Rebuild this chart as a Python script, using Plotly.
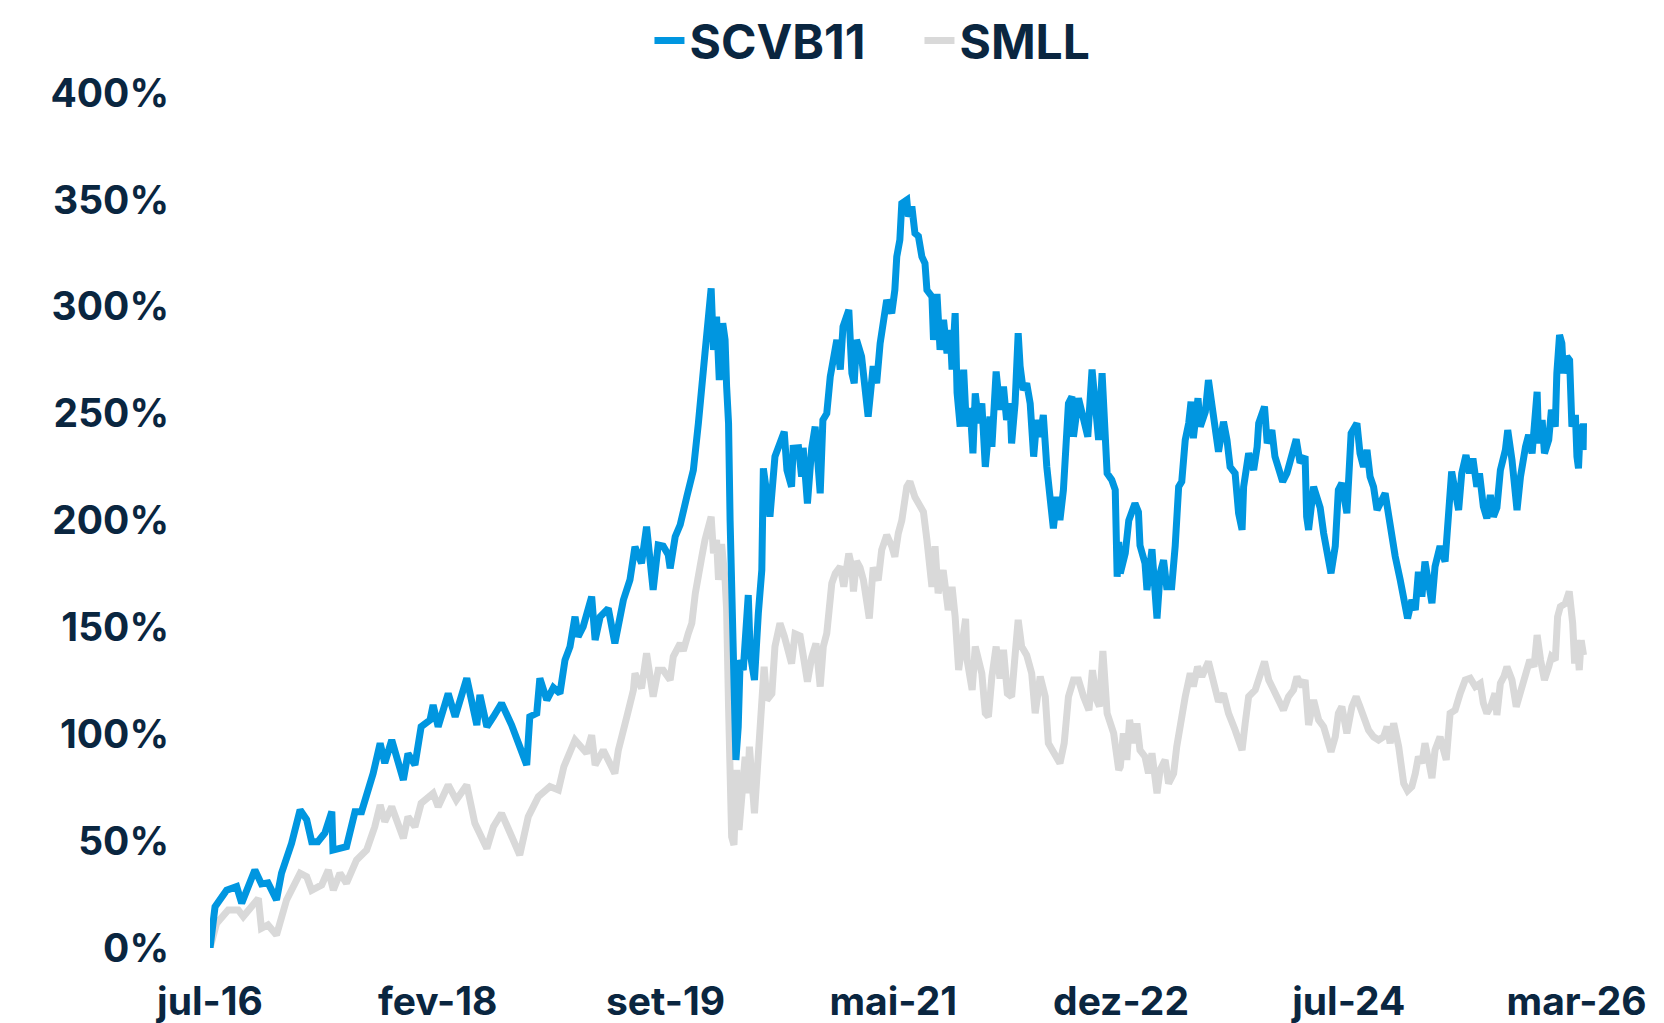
import plotly.graph_objects as go

# ---------------- data (cumulative return, %) ----------------
scvb11_dates = [
"2016-07-01","2016-07-14","2016-08-13","2016-09-08","2016-09-21","2016-10-25","2016-11-11","2016-11-28","2016-12-20","2017-01-02",
"2017-01-28","2017-02-19","2017-03-08","2017-03-21","2017-04-06","2017-04-24","2017-05-12","2017-05-15","2017-06-19","2017-07-11",
"2017-07-28","2017-08-10","2017-08-27","2017-09-14","2017-09-26","2017-10-14","2017-11-13","2017-11-25","2017-12-13","2017-12-29",
"2018-01-21","2018-01-29","2018-02-11","2018-03-09","2018-03-27","2018-04-26","2018-05-22","2018-05-30","2018-06-17","2018-07-04",
"2018-07-25","2018-08-20","2018-09-02","2018-09-19","2018-09-28","2018-10-06","2018-10-24","2018-11-01","2018-11-19","2018-12-06",
"2018-12-23","2019-01-05","2019-01-18","2019-01-31","2019-02-08","2019-02-21","2019-03-15","2019-03-24","2019-04-06","2019-04-27",
"2019-05-14","2019-06-05","2019-06-22","2019-07-05","2019-07-22","2019-08-04","2019-08-21","2019-09-03","2019-09-16","2019-09-29",
"2019-10-04","2019-10-17","2019-10-30","2019-11-16","2019-12-03","2019-12-16","2019-12-25","2020-01-02","2020-01-18","2020-01-24",
"2020-02-01","2020-02-08","2020-02-17","2020-02-23","2020-02-27","2020-03-03","2020-03-07","2020-03-15","2020-03-22","2020-03-28",
"2020-04-02","2020-04-10","2020-04-23","2020-04-28","2020-05-09","2020-05-19","2020-05-28","2020-06-01","2020-06-10","2020-06-18",
"2020-07-01","2020-07-14","2020-07-25","2020-08-01","2020-08-13","2020-08-17","2020-08-31","2020-09-08","2020-09-12","2020-09-23",
"2020-10-04","2020-10-13","2020-10-26","2020-11-02","2020-11-12","2020-11-21","2020-11-30","2020-12-08","2020-12-17","2020-12-24",
"2021-01-08","2021-01-16","2021-01-22","2021-01-28","2021-02-10","2021-02-19","2021-02-27","2021-03-12","2021-03-21","2021-03-30",
"2021-04-07","2021-04-16","2021-04-29","2021-05-07","2021-05-12","2021-05-20","2021-05-25","2021-06-07","2021-06-11","2021-06-20",
"2021-06-28","2021-07-07","2021-07-16","2021-07-24","2021-07-29","2021-08-11","2021-08-15","2021-08-24","2021-09-01","2021-09-10",
"2021-09-19","2021-09-27","2021-10-02","2021-10-10","2021-10-15","2021-10-23","2021-11-01","2021-11-08","2021-11-18","2021-11-25",
"2021-12-01","2021-12-10","2021-12-18","2021-12-27","2022-01-08","2022-01-13","2022-01-24","2022-02-03","2022-02-12","2022-02-20",
"2022-03-01","2022-03-05","2022-03-14","2022-03-22","2022-03-27","2022-04-04","2022-04-13","2022-04-22","2022-05-01","2022-05-09",
"2022-05-18","2022-05-26","2022-06-04","2022-06-12","2022-06-21","2022-06-30","2022-07-08","2022-07-17","2022-07-30","2022-08-08",
"2022-08-12","2022-08-25","2022-09-07","2022-09-18","2022-09-29","2022-10-07","2022-10-16","2022-10-25","2022-11-02","2022-11-07",
"2022-11-19","2022-11-28","2022-12-03","2022-12-07","2022-12-11","2022-12-24","2023-01-02","2023-01-18","2023-01-27","2023-01-31",
"2023-02-13","2023-02-18","2023-03-03","2023-03-16","2023-03-24","2023-04-02","2023-04-10","2023-04-23","2023-05-02","2023-05-11",
"2023-05-19","2023-05-28","2023-06-06","2023-06-12","2023-06-18","2023-06-30","2023-07-06","2023-07-19","2023-07-27","2023-08-05",
"2023-08-14","2023-08-22","2023-09-04","2023-09-13","2023-09-21","2023-10-04","2023-10-13","2023-10-22","2023-10-26","2023-11-08",
"2023-11-21","2023-11-30","2023-12-04","2023-12-19","2023-12-26","2024-01-07","2024-01-15","2024-02-04","2024-02-15","2024-02-28",
"2024-03-10","2024-03-20","2024-04-02","2024-04-06","2024-04-11","2024-04-24","2024-05-02","2024-05-11","2024-05-20","2024-06-01",
"2024-06-08","2024-06-19","2024-06-27","2024-07-06","2024-07-19","2024-07-30","2024-08-14","2024-08-22","2024-08-31","2024-09-09",
"2024-09-17","2024-09-26","2024-10-05","2024-10-26","2024-11-04","2024-11-13","2024-11-21","2024-12-04","2024-12-13","2024-12-23",
"2025-01-03","2025-01-12","2025-01-20","2025-01-29","2025-02-06","2025-02-15","2025-02-24","2025-03-04","2025-03-17","2025-03-30",
"2025-04-08","2025-04-16","2025-05-04","2025-05-12","2025-05-23","2025-06-01","2025-06-10","2025-06-20","2025-06-27","2025-07-07",
"2025-07-16","2025-07-25","2025-08-02","2025-08-11","2025-08-20","2025-09-02","2025-09-08","2025-09-19","2025-10-02","2025-10-11",
"2025-10-24","2025-11-01","2025-11-10","2025-11-16","2025-11-23","2025-11-27","2025-12-06","2025-12-12","2025-12-23","2025-12-30",
"2026-01-09","2026-01-13","2026-01-20","2026-01-26","2026-01-30","2026-02-08","2026-02-15","2026-02-21","2026-03-02","2026-03-06",
"2026-03-10","2026-03-15","2026-03-22","2026-03-23",
]
scvb11_values = [
0, 19.3, 27, 28.7, 21, 36.5, 30, 30.5, 22.5, 35,
49, 64.6, 60, 49.7, 49.7, 53.8, 63.8, 45.8, 47.4, 63.8,
63.8, 70.8, 81.7, 95.8, 86.5, 97.3, 78.6, 91, 85.6, 103.5,
106.7, 113.7, 103.5, 119.1, 108.2, 126.2, 104.3, 118.4, 103.5, 108.2,
114.5, 104.3, 97.3, 89.5, 85.6, 108.2, 109.8, 126.2, 116, 121.8,
119.1, 134.7, 141, 155, 145.6, 150.3, 164.4, 144.1, 155, 158.9,
142.5, 162.8, 172.2, 187.7, 180, 197.1, 167.5, 188.5, 188, 184,
177.6, 192.4, 198, 211.1, 223.6, 245.5, 267.3, 278.2, 308.6, 279.8,
295.4, 265.7, 292.3, 284.5, 262.6, 245.5, 200, 150, 88, 103.5,
134.7, 130, 165.1, 137.9, 125.4, 156.6, 176.8, 224.4, 214.3, 201.8,
229.9, 236.1, 241.5, 223.6, 215.8, 233.8, 234, 220.5, 234, 208,
233.8, 243.9, 212.7, 247, 250.1, 267.3, 275.1, 284.5, 270.6, 290.7,
298.5, 268.9, 264.2, 284.5, 276.7, 261, 248.6, 272.2, 264.2, 282.9,
290.7, 303.2, 297, 307.8, 323.4, 331.3, 348.4, 350, 342.2, 346.9,
334.4, 333, 323.4, 320.3, 307.8, 304.7, 284.5, 306, 279.8, 293.9,
278.2, 289.2, 270.6, 297, 259.7, 243.9, 270.6, 244, 252.5, 231.4,
259.5, 245.5, 254.8, 225.1, 248.6, 234.5, 269.7, 251.8, 262.6, 247,
254.8, 236.1, 254.8, 287.6, 272.2, 261, 264.2, 254.8, 229.9, 247,
239.2, 249.4, 225.1, 209.6, 196.3, 211, 200.2, 214.3, 254.8, 258,
239.2, 257.2, 247, 239.2, 270.6, 251.8, 237.7, 268.9, 245.5, 222.1,
219, 214.3, 173.7, 190, 175.3, 184.7, 200, 208, 204, 188.3,
180, 167.5, 186.6, 154.2, 175.3, 181.5, 169, 169, 188, 215.8,
218.2, 237.7, 245.5, 255.6, 238.5, 257.2, 243.9, 250.9, 265.7, 252.5,
239.2, 232.2, 246.2, 237.7, 225.1, 222.1, 203.4, 195.6, 215.8, 231.4,
223.6, 234.5, 245.5, 253.3, 236.1, 242.3, 229.9, 218.2, 222.1, 230,
238, 227, 230, 201.8, 195.6, 215.8, 209.6, 206, 194, 183.2,
175.3, 188, 214.3, 217.5, 203.4, 240.8, 245.5, 231.4, 225.1, 233,
220.5, 215.8, 204.9, 212.7, 202, 190.9, 183.2, 172.2, 162.8, 154.2,
162.8, 158.1, 176, 164.4, 180.8, 169, 161.3, 178.4, 188, 180.8,
206.5, 222.9, 204.9, 222, 230.6, 222.1, 229, 215.8, 222, 206.5,
201, 211.9, 201.8, 206, 223.6, 233, 242.3, 228.3, 204.9, 220.5,
234.5, 240, 231.4, 250.1, 260.2, 236.1, 247, 231.4, 237.7, 251.8,
243.9, 268.9, 286.8, 282.9, 268.9, 276.7, 275, 243.9, 249.4, 229.9,
224.4, 245, 233, 245.5,
]

smll_dates = [
"2016-07-01","2016-07-18","2016-08-17","2016-09-12","2016-09-25","2016-10-21","2016-11-03","2016-11-11","2016-11-28","2016-12-20",
"2017-01-15","2017-02-19","2017-03-08","2017-03-21","2017-04-16","2017-05-03","2017-05-16","2017-06-02","2017-06-19","2017-07-15",
"2017-08-10","2017-08-31","2017-09-14","2017-09-26","2017-10-14","2017-11-13","2017-11-25","2017-12-13","2017-12-29","2018-01-29",
"2018-02-11","2018-03-09","2018-03-30","2018-04-26","2018-05-17","2018-06-17","2018-07-04","2018-07-25","2018-08-16","2018-09-10",
"2018-10-02","2018-10-28","2018-11-27","2018-12-19","2019-01-02","2019-01-18","2019-01-31","2019-03-02","2019-03-15","2019-03-24",
"2019-04-14","2019-05-14","2019-05-23","2019-06-14","2019-07-01","2019-07-05","2019-07-22","2019-08-04","2019-08-21","2019-09-03",
"2019-09-16","2019-10-04","2019-10-12","2019-10-30","2019-11-07","2019-11-20","2019-11-29","2019-12-08","2019-12-16","2019-12-25",
"2020-01-02","2020-01-18","2020-01-24","2020-02-01","2020-02-06","2020-02-14","2020-02-23","2020-02-27","2020-03-03","2020-03-07",
"2020-03-11","2020-03-17","2020-03-24","2020-03-30","2020-04-06","2020-04-15","2020-04-21","2020-04-26","2020-05-09","2020-05-19",
"2020-05-28","2020-06-03","2020-06-10","2020-06-23","2020-07-01","2020-07-14","2020-07-25","2020-08-04","2020-08-13","2020-08-22",
"2020-09-04","2020-09-12","2020-09-23","2020-10-04","2020-10-15","2020-10-26","2020-11-03","2020-11-12","2020-11-25","2020-12-04",
"2020-12-17","2020-12-26","2021-01-08","2021-01-16","2021-01-20","2021-01-28","2021-02-06","2021-02-15","2021-02-23","2021-03-02",
"2021-03-12","2021-03-25","2021-04-03","2021-04-16","2021-04-29","2021-05-07","2021-05-16","2021-05-25","2021-06-07","2021-06-15",
"2021-06-28","2021-07-20","2021-07-29","2021-08-11","2021-08-19","2021-08-27","2021-09-09","2021-09-22","2021-10-02","2021-10-10",
"2021-10-19","2021-10-28","2021-11-06","2021-11-10","2021-11-23","2021-12-01","2021-12-10","2021-12-18","2021-12-27","2022-01-04",
"2022-01-13","2022-01-24","2022-02-03","2022-02-12","2022-02-22","2022-03-05","2022-03-14","2022-03-22","2022-03-31","2022-04-13",
"2022-04-26","2022-05-05","2022-05-18","2022-05-31","2022-06-08","2022-06-21","2022-07-08","2022-07-19","2022-07-30","2022-08-12",
"2022-08-25","2022-09-07","2022-09-21","2022-09-30","2022-10-11","2022-10-18","2022-10-27","2022-11-07","2022-11-15","2022-11-24",
"2022-12-07","2022-12-11","2022-12-19","2022-12-28","2023-01-04","2023-01-14","2023-01-23","2023-01-31","2023-02-13","2023-02-22",
"2023-03-03","2023-03-16","2023-03-24","2023-04-06","2023-04-15","2023-04-28","2023-05-06","2023-05-15","2023-05-28","2023-06-10",
"2023-06-18","2023-06-29","2023-07-10","2023-07-27","2023-08-09","2023-08-22","2023-09-04","2023-09-17","2023-10-04","2023-10-22",
"2023-10-30","2023-11-08","2023-11-25","2023-12-08","2023-12-19","2023-12-30","2024-01-11","2024-01-24","2024-02-06","2024-02-19",
"2024-03-03","2024-03-12","2024-03-25","2024-04-02","2024-04-11","2024-04-24","2024-05-07","2024-05-20","2024-06-08","2024-06-19",
"2024-06-27","2024-07-06","2024-07-19","2024-08-01","2024-08-12","2024-08-22","2024-09-04","2024-09-13","2024-09-26","2024-10-09",
"2024-10-22","2024-10-31","2024-11-08","2024-11-17","2024-11-30","2024-12-04","2024-12-13","2024-12-23","2025-01-03","2025-01-12",
"2025-01-20","2025-01-29","2025-02-06","2025-02-15","2025-02-24","2025-03-04","2025-03-17","2025-03-26","2025-04-02","2025-04-12",
"2025-04-25","2025-05-08","2025-05-21","2025-06-03","2025-06-16","2025-06-29","2025-07-07","2025-07-16","2025-07-26","2025-08-06",
"2025-08-11","2025-08-20","2025-08-29","2025-09-06","2025-09-19","2025-09-30","2025-10-11","2025-10-24","2025-11-04","2025-11-15",
"2025-11-23","2025-12-02","2025-12-12","2025-12-23","2025-12-30","2026-01-09","2026-01-15","2026-01-22","2026-02-04","2026-02-14",
"2026-02-23","2026-02-28","2026-03-06","2026-03-12","2026-03-17","2026-03-23",
]
smll_values = [
0, 11.5, 17.8, 17.8, 14.7, 20.9, 23.2, 9.2, 10.8, 6.1,
22.5, 35, 33.4, 27, 29.5, 36.5, 27.1, 35, 30.3, 41.2,
45.8, 56.7, 66.9, 59.1, 66.1, 51.3, 61.4, 56.7, 67.7, 72.4,
66.1, 76.3, 69.2, 76.3, 58.3, 46.6, 56.7, 63, 53.7, 43.5,
61.4, 70.8, 75.5, 73.9, 84.8, 91.1, 97.3, 91.1, 99.6, 85.6,
92.6, 81.7, 92.6, 108.2, 120.7, 128.5, 121.5, 137.9, 117.6, 130,
130, 125.4, 136.3, 142.5, 139, 147.2, 151.9, 165.9, 176.8, 183.2,
190.9, 201.8, 184.7, 190.9, 172.2, 189, 172.2, 158.1, 112.9, 80.1,
52.1, 48.2, 83.3, 55.2, 75.5, 89.5, 72.4, 94.2, 63, 94,
114.5, 131.6, 116, 119, 141, 151.9, 146, 137.9, 133.1, 147,
146, 137, 124.6, 136, 142.5, 122.3, 141, 147.2, 170.6, 175.3,
178.4, 169, 184.6, 178, 166.8, 181, 178, 172, 161.3, 154.2,
178, 172, 186.2, 193.2, 188, 183, 194, 200, 215.8, 218.2,
211, 204, 190.9, 169, 188, 166, 176.8, 158.1, 169, 155,
130, 142.5, 154, 134.7, 120.7, 141, 133, 128.5, 109.8, 108.2,
127, 141, 126, 139.5, 119.1, 117.6, 137, 153.5, 141, 137,
128.5, 109.8, 127, 117.6, 95.8, 91.1, 86.4, 95.8, 117.6, 125.4,
125.4, 117.6, 111.3, 130, 116, 113, 139, 109.8, 105.1, 100.4,
83.3, 84.8, 100.4, 88, 106.7, 95.8, 105.1, 92.6, 89.5, 81.7,
91.1, 72.4, 83.3, 88, 77, 81.7, 94.2, 105.1, 117.6, 128.5,
122.3, 131.6, 127, 134, 125.4, 115.2, 119, 109.8, 102, 92.6,
105.1, 117.6, 120.7, 126.9, 134, 125.4, 120.7, 115.2, 111.3, 117.6,
120.7, 126.9, 122.3, 125.4, 104.3, 116, 106.7, 103.5, 91.8, 98.8,
109.8, 112.9, 100.4, 112.9, 117.6, 112.9, 106.7, 102, 98.8, 97.3,
98.8, 103.5, 95.8, 105.1, 94.2, 88, 77, 73.6, 75.5, 81.7,
89.5, 86.5, 95.8, 88, 79.5, 92.6, 98.8, 92.6, 88, 109.8,
111.3, 119.1, 125.4, 126.2, 122.3, 123.8, 114.5, 109.8, 112.9, 119.1,
109, 123.8, 126.9, 131.6, 125.4, 112.9, 119.1, 128.5, 134.7, 131.6,
146.4, 134.7, 125.4, 131.6, 136.3, 134.7, 155, 159.7, 161.2, 166.8,
151.9, 133.1, 144.1, 130, 144, 137,
]

series_names = ["SCVB11", "SMLL"]
tick_dates = ["2016-07-01", "2018-02-10", "2019-09-22", "2021-05-03",
              "2022-12-13", "2024-07-24", "2026-03-05"]
tick_labels = ["jul-16", "fev-18", "set-19", "mai-21", "dez-22", "jul-24", "mar-26"]
y_ticks = [0, 50, 100, 150, 200, 250, 300, 350, 400]
y_tick_labels = ["0%", "50%", "100%", "150%", "200%", "250%", "300%", "350%", "400%"]

assert len(scvb11_dates) == len(scvb11_values), (len(scvb11_dates), len(scvb11_values))
assert len(smll_dates) == len(smll_values), (len(smll_dates), len(smll_values))

# ---------------- styling ----------------
NAVY = "#0a2640"
BLUE = "#0096e0"
GREY = "#d9d9d9"
FONT = "Inter, 'Open Sans', 'DejaVu Sans', sans-serif"

fig = go.Figure()
fig.add_trace(go.Scatter(
    x=smll_dates, y=smll_values, name=series_names[1], mode="lines",
    line=dict(color=GREY, width=7), legendrank=2,
))
fig.add_trace(go.Scatter(
    x=scvb11_dates, y=scvb11_values, name=series_names[0], mode="lines",
    line=dict(color=BLUE, width=7), legendrank=1,
))

fig.update_layout(
    width=1664, height=1023, autosize=False,
    margin=dict(l=202, r=85, t=85, b=83),
    paper_bgcolor="white", plot_bgcolor="white",
    font=dict(family=FONT, size=39, color=NAVY, weight=700),
    showlegend=True,
    legend=dict(
        orientation="h", xref="container", yref="container",
        x=0.3855, xanchor="left", y=0.968, yanchor="middle",
        font=dict(family=FONT, size=48, color=NAVY, weight=700),
        bgcolor="rgba(0,0,0,0)", entrywidth=225, traceorder="normal",
    ),
    xaxis=dict(
        type="date", range=["2016-07-01", "2026-04-01"],
        tickmode="array", tickvals=tick_dates, ticktext=tick_labels,
        showgrid=False, zeroline=False, showline=False, ticks="",
        ticklabelstandoff=27, automargin=False,
        tickfont=dict(family=FONT, size=39, color=NAVY, weight=700),
    ),
    yaxis=dict(
        range=[0, 400], tickmode="array", tickvals=y_ticks, ticktext=y_tick_labels,
        showgrid=False, zeroline=False, showline=False, ticks="",
        ticklabelstandoff=40, automargin=False,
        tickfont=dict(family=FONT, size=39, color=NAVY, weight=700),
    ),
    hovermode=False,
)

fig.write_html("out.html")
